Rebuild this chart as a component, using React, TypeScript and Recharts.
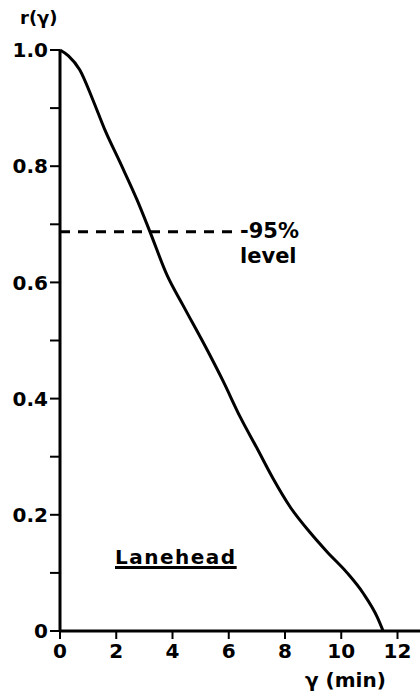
import React from "react";
import { LineChart, Line, XAxis, YAxis, ReferenceLine } from "recharts";

// lag in minutes vs autocorrelation r(γ)
const lag = [0, 0.3, 0.7, 1.17, 1.6, 2.14, 2.74, 3.2, 3.81, 4.38, 5.23, 5.8, 6.41, 7.01, 7.58, 8.19, 8.9, 9.5, 10.21, 10.78, 11.28, 11.49];
const corr = [1.0, 0.99, 0.966, 0.914, 0.862, 0.806, 0.742, 0.687, 0.612, 0.56, 0.484, 0.43, 0.368, 0.314, 0.262, 0.213, 0.169, 0.136, 0.1, 0.065, 0.024, 0];

const xTicks = [0, 2, 4, 6, 8, 10, 12];
const yTicks = [0, 0.1, 0.2, 0.3, 0.4, 0.5, 0.6, 0.7, 0.8, 0.9, 1.0];
const yLabeled = [0, 0.2, 0.4, 0.6, 0.8, 1.0];

const level95 = 0.687;
const levelEnd = 6.3;

const data = lag.map((x, i) => ({ x, r: corr[i] }));

const font = "'DejaVu Sans', Verdana, sans-serif";
const tickStyle = { fill: "#000", fontSize: 20, fontWeight: 700, fontFamily: font };

function fmtY(v: number) {
  if (!yLabeled.some(t => Math.abs(t - v) < 1e-6)) return "";
  return v === 0 ? "0" : v.toFixed(1);
}

export default function App() {
  return (
    <div style={{ position: "absolute", left: 0, top: 0, width: 420, height: 692, background: "#fff", fontFamily: font }}>
      <LineChart width={420} height={692} data={data} margin={{ top: 50, right: 0, bottom: 0, left: 0 }}>
        <XAxis
          dataKey="x"
          type="number"
          domain={[0, 12.8]}
          ticks={xTicks}
          height={61}
          stroke="#000"
          strokeWidth={3}
          tickSize={8}
          tickMargin={5}
          tick={tickStyle}
          tickLine={{ stroke: "#000", strokeWidth: 2 }}
          interval={0}
        />
        <YAxis
          dataKey="r"
          type="number"
          domain={[0, 1]}
          ticks={yTicks}
          interval={0}
          width={60}
          stroke="#000"
          strokeWidth={3}
          tickSize={10}
          tickMargin={2}
          tickFormatter={fmtY}
          tick={tickStyle}
          tickLine={{ stroke: "#000", strokeWidth: 2 }}
        />
        <ReferenceLine
          segment={[{ x: 0, y: level95 }, { x: levelEnd, y: level95 }]}
          stroke="#000"
          strokeWidth={3}
          strokeDasharray="10 8"
        />
        <Line type="monotone" dataKey="r" stroke="#000" strokeWidth={3} dot={false} isAnimationActive={false} />
      </LineChart>
      <div style={{ position: "absolute", left: 20, top: 7, fontSize: 18, fontWeight: 700 }}>r(γ)</div>
      <div style={{ position: "absolute", left: 240, top: 219, fontSize: 21, fontWeight: 700 }}>-95%</div>
      <div style={{ position: "absolute", left: 240, top: 244, fontSize: 21, fontWeight: 700 }}>level</div>
      <div style={{ position: "absolute", left: 115, top: 545, fontSize: 20, fontWeight: 700, letterSpacing: 1.5, textDecoration: "underline", textDecorationThickness: 3 }}>Lanehead</div>
      <div style={{ position: "absolute", left: 305, top: 670, fontSize: 20, lineHeight: "20px", fontWeight: 700 }}>γ (min)</div>
    </div>
  );
}
